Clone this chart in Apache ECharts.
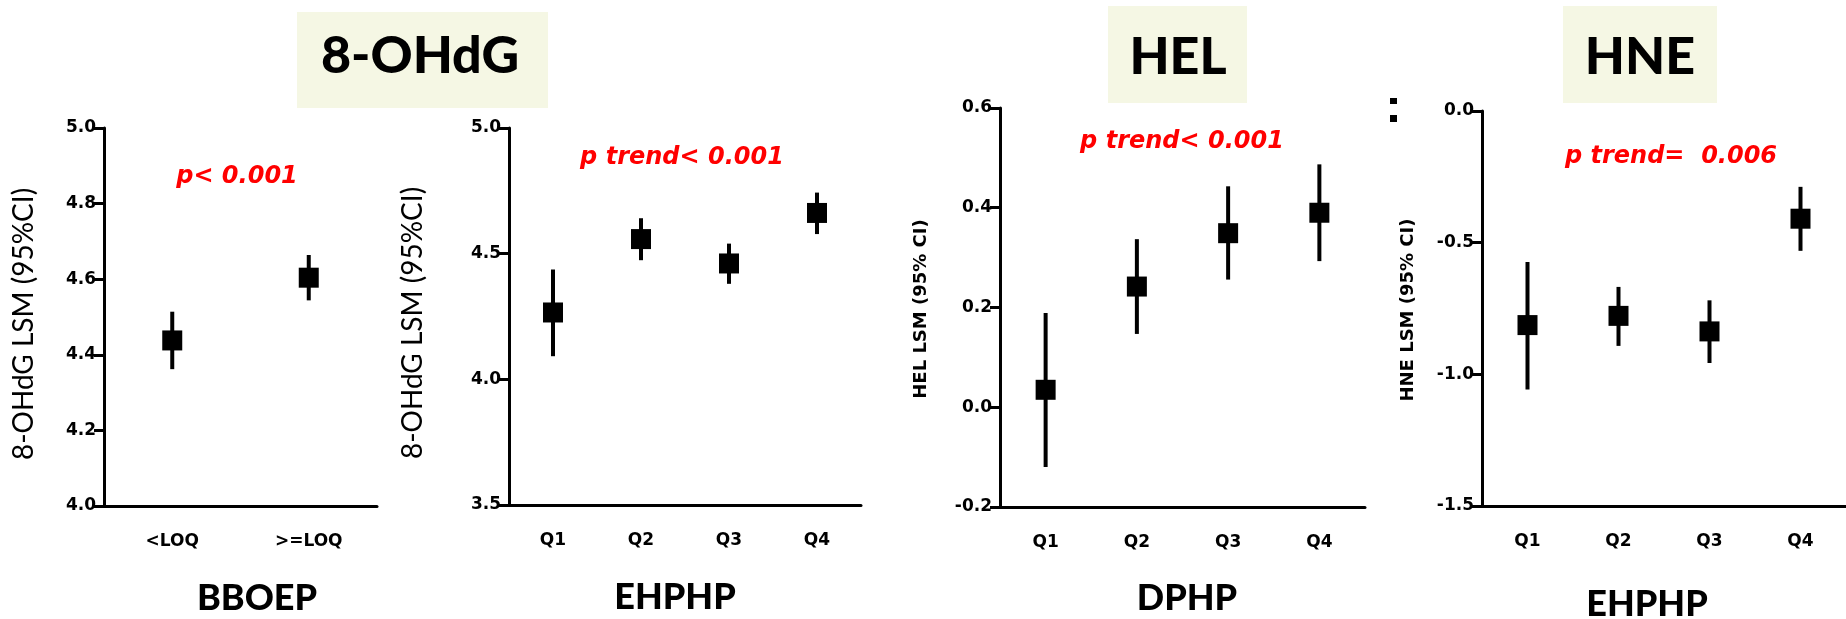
<!DOCTYPE html>
<html><head><meta charset="utf-8">
<script src="https://cdn.jsdelivr.net/npm/echarts@6/dist/echarts.min.js"></script>
<style>html,body{margin:0;padding:0;background:#fff}#c{width:1846px;height:619px}</style>
</head><body><div id="c"></div>
<script>
// ---- data ----
const cats1 = ['<LOQ', '>=LOQ'];
const catsQ = ['Q1', 'Q2', 'Q3', 'Q4'];

const mean1 = [4.438, 4.604];
const lo1   = [4.362, 4.544];
const hi1   = [4.514, 4.664];

const mean2 = [4.266, 4.558, 4.461, 4.662];
const lo2   = [4.092, 4.474, 4.380, 4.578];
const hi2   = [4.437, 4.641, 4.540, 4.743];

const mean3 = [0.035, 0.242, 0.349, 0.390];
const lo3   = [-0.120, 0.147, 0.256, 0.293];
const hi3   = [0.189, 0.337, 0.443, 0.487];

const mean4 = [-0.813, -0.778, -0.837, -0.409];
const lo4   = [-1.058, -0.892, -0.957, -0.531];
const hi4   = [-0.573, -0.668, -0.719, -0.288];

const yMin  = [4.0, 3.5, -0.2, -1.5];
const yMax  = [5.0, 5.0, 0.6, 0.0];
const yStep = [0.2, 0.5, 0.2, 0.5];

const panelTitles = ['8-OHdG', 'HEL', 'HNE'];
const pTexts  = ['p< 0.001', 'p trend< 0.001', 'p trend< 0.001', 'p trend=  0.006'];
const xTitles = ['BBOEP', 'EHPHP', 'DPHP', 'EHPHP'];
const yTitles = ['8-OHdG LSM (95%CI)', '8-OHdG LSM (95%CI)', 'HEL LSM (95% CI)', 'HNE LSM (95% CI)'];

// ---- layout ----
const grids = [
  {left: 104, top: 128, width: 273, height: 378},
  {left: 509, top: 128, width: 352, height: 377},
  {left: 1000, top: 108, width: 365, height: 399},
  {left: 1482, top: 111, width: 373, height: 395}
];
const catsList = [cats1, catsQ, catsQ, catsQ];
const means = [mean1, mean2, mean3, mean4];
const los = [lo1, lo2, lo3, lo4];
const his = [hi1, hi2, hi3, hi4];

const tickFont = {fontFamily: 'DejaVu Sans', fontWeight: 'bold', fontSize: 17, color: '#000'};

const xAxes = grids.map((g, i) => ({
  type: 'category', gridIndex: i, data: catsList[i], boundaryGap: true,
  axisLine: {onZero: false, lineStyle: {color: '#000', width: 3}},
  axisTick: {alignWithLabel: true, length: 10, lineStyle: {color: '#000', width: 3}},
  axisLabel: Object.assign({margin: 27}, tickFont),
  splitLine: {show: false}
}));
const yAxes = grids.map((g, i) => ({
  type: 'value', gridIndex: i, min: yMin[i], max: yMax[i], interval: yStep[i],
  axisLine: {show: true, onZero: false, lineStyle: {color: '#000', width: 3}},
  axisTick: {show: true, length: 10, lineStyle: {color: '#000', width: 3}},
  axisLabel: Object.assign({margin: 8, formatter: v => v.toFixed(1)}, tickFont),
  splitLine: {show: false}
}));

const series = [];
grids.forEach((g, i) => {
  series.push({
    type: 'custom', xAxisIndex: i, yAxisIndex: i,
    data: catsList[i].map((c, j) => [j, los[i][j], his[i][j]]),
    encode: {x: 0, y: [1, 2]},
    renderItem: (params, api) => {
      const x = api.value(0);
      const a = api.coord([x, api.value(1)]);
      const b = api.coord([x, api.value(2)]);
      return {type: 'line', shape: {x1: a[0], y1: a[1], x2: b[0], y2: b[1]},
              style: {stroke: '#000', lineWidth: 4}};
    },
    z: 2
  });
  series.push({
    type: 'scatter', xAxisIndex: i, yAxisIndex: i,
    data: means[i].map((v, j) => [j, v]),
    symbol: 'rect', symbolSize: [20, 20],
    itemStyle: {color: '#000', opacity: 1},
    z: 3
  });
});

// ---- text graphics ----
const graphic = [];
const boxes = [
  {x: 297, y: 12, w: 251, h: 96, cx: 420, cy: 56},
  {x: 1108, y: 6, w: 139, h: 97, cx: 1178, cy: 57},
  {x: 1563, y: 6, w: 154, h: 97, cx: 1640, cy: 57}
];
boxes.forEach((b, k) => {
  graphic.push({type: 'rect', shape: {x: b.x, y: b.y, width: b.w, height: b.h},
    style: {fill: '#f5f7e4'}, z: 1});
  graphic.push({type: 'text', x: b.cx, y: b.cy, z: 2,
    style: {text: panelTitles[k], font: '900 52px Lato', fill: '#000',
      textAlign: 'center', textVerticalAlign: 'middle'}});
});
const pPos = [[237, 177], [682, 158], [1182, 142], [1671, 157]];
pPos.forEach((p, i) => graphic.push({type: 'text', x: p[0], y: p[1],
  style: {text: pTexts[i], font: 'italic bold 24px "DejaVu Sans"', fill: '#ff0000',
    textAlign: 'center', textVerticalAlign: 'middle'}}));
const xtPos = [[257, 598], [675, 597], [1187, 598], [1647, 604]];
xtPos.forEach((p, i) => graphic.push({type: 'text', x: p[0], y: p[1],
  style: {text: xTitles[i], font: '900 36px Lato', fill: '#000',
    textAlign: 'center', textVerticalAlign: 'middle'}}));
const ytPos = [[24, 324], [413, 323], [921, 309], [1408, 310]];
const ytFont = ['28px Lato', '28px Lato', 'bold 18px "DejaVu Sans"', 'bold 18px "DejaVu Sans"'];
ytPos.forEach((p, i) => graphic.push({type: 'text', x: p[0], y: p[1], rotation: Math.PI / 2,
  style: {text: yTitles[i], font: ytFont[i], fill: '#000',
    textAlign: 'center', textVerticalAlign: 'middle'}}));
// stray colon mark next to the HNE panel
graphic.push({type: 'rect', shape: {x: 1390, y: 98, width: 7, height: 6}, style: {fill: '#000'}});
graphic.push({type: 'rect', shape: {x: 1390, y: 115, width: 7, height: 7}, style: {fill: '#000'}});

const chart = echarts.init(document.getElementById('c'), null, {renderer: 'canvas'});
chart.setOption({
  backgroundColor: '#fff',
  animation: false,
  grid: grids.map(g => Object.assign({containLabel: false}, g)),
  xAxis: xAxes,
  yAxis: yAxes,
  series: series,
  graphic: graphic
});
</script>
</body></html>
